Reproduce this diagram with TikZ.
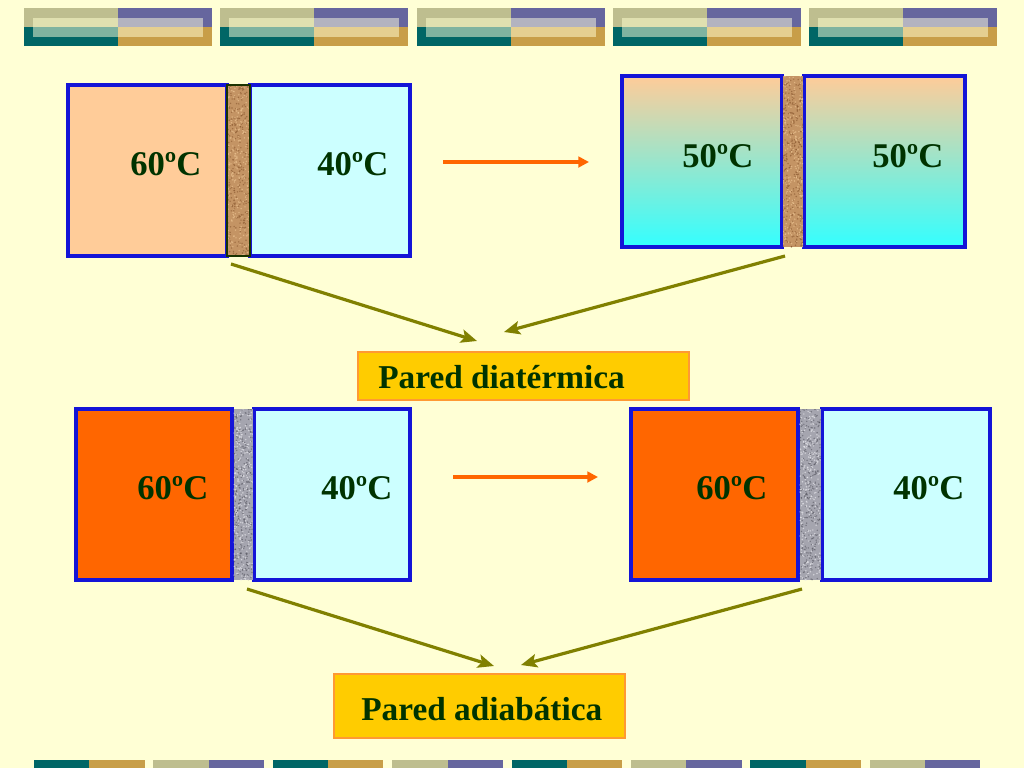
\documentclass[tikz,border=0pt]{standalone}
\usepackage{fontspec}
\setmainfont{Liberation Serif}
\usetikzlibrary{arrows.meta}
\definecolor{bgc}{RGB}{255,255,213}
\definecolor{bluec}{RGB}{20,20,215}
\definecolor{peachc}{RGB}{255,204,153}
\definecolor{cyanc}{RGB}{204,255,255}
\definecolor{hotc}{RGB}{255,102,0}
\definecolor{txtc}{RGB}{0,51,0}
\definecolor{olivec}{RGB}{128,128,0}
\definecolor{goldc}{RGB}{255,204,0}
\definecolor{goldb}{RGB}{255,153,51}
\definecolor{corkc}{RGB}{196,148,100}
\definecolor{corkd}{RGB}{130,80,40}
\definecolor{corkl}{RGB}{235,195,145}
\definecolor{granc}{RGB}{165,165,175}
\definecolor{grand}{RGB}{80,80,90}
\definecolor{granl}{RGB}{230,230,235}
\definecolor{wallb}{RGB}{26,51,0}
\definecolor{midc}{RGB}{180,225,210}
\definecolor{botc}{RGB}{51,255,255}
\definecolor{bKh}{RGB}{190,190,143}
\definecolor{bPu}{RGB}{102,102,158}
\definecolor{bTe}{RGB}{0,102,102}
\definecolor{bGo}{RGB}{200,158,72}
\definecolor{iKh}{RGB}{224,224,176}
\definecolor{iPu}{RGB}{179,179,192}
\definecolor{iTe}{RGB}{127,179,160}
\definecolor{iGo}{RGB}{229,207,144}
\tikzset{
  box/.style={draw=bluec, line width=2.6pt},
  temp/.style={text=txtc, font=\fontsize{26}{30}\selectfont\bfseries, inner sep=0pt, anchor=base west},
  lbltxt/.style={text=txtc, font=\fontsize{25}{30}\selectfont\bfseries, inner sep=0pt, anchor=base west},
  olivearrow/.style={draw=olivec, line width=2.4pt, -{Stealth[length=12pt,width=10pt,inset=2.5pt]}},
  hotarrow/.style={draw=hotc, line width=2.4pt, -{Triangle[length=8pt,width=8pt]}}
}
\newcommand{\texwall}[6]{% x0 y0 x1 y1 dark light
  \begin{scope}
    \clip (#1,#2) rectangle (#3,#4);
    \foreach \k in {1,...,300} {
      \pgfmathsetmacro{\px}{#1+rnd*(#3-#1)}
      \pgfmathsetmacro{\py}{#2+rnd*(#4-#2)}
      \fill[#5, opacity=0.55] (\px,\py) circle (0.8);
    }
    \foreach \k in {1,...,240} {
      \pgfmathsetmacro{\px}{#1+rnd*(#3-#1)}
      \pgfmathsetmacro{\py}{#2+rnd*(#4-#2)}
      \fill[#6, opacity=0.7] (\px,\py) circle (0.8);
    }
  \end{scope}}
\begin{document}
\begin{tikzpicture}[x=0.75pt,y=-0.75pt]
\pgfmathsetseed{11}
\fill[bgc] (0,0) rectangle (1024,768);
\useasboundingbox (0,0) rectangle (1024,768);
% top decorative band
\foreach \bx in {24,220.25,416.5,612.75,809} {
  \fill[bKh] (\bx,8) rectangle ++(94,19);
  \fill[bPu] (\bx+94,8) rectangle ++(94,19);
  \fill[bTe] (\bx,27) rectangle ++(94,19);
  \fill[bGo] (\bx+94,27) rectangle ++(94,19);
  \fill[iKh] (\bx+9,18) rectangle ++(85,9);
  \fill[iPu] (\bx+94,18) rectangle ++(85,9);
  \fill[iTe] (\bx+9,27) rectangle ++(85,10);
  \fill[iGo] (\bx+94,27) rectangle ++(85,10);
}
% bottom decorative band
\foreach \bx/\ca/\cb in {34/bTe/bGo,153.4/bKh/bPu,272.8/bTe/bGo,392.2/bKh/bPu,511.6/bTe/bGo,631/bKh/bPu,750.4/bTe/bGo,869.8/bKh/bPu} {
  \fill[\ca] (\bx,760) rectangle ++(55.3,8);
  \fill[\cb] (\bx+55.3,760) rectangle ++(55.3,8);
}
% ---- system 1 (top left) ----
\fill[peachc] (68,85) rectangle (227,256);
\draw[box] (68,85) rectangle (227,256);
\fill[cyanc] (250,85) rectangle (410,256);
\draw[box] (250,85) rectangle (410,256);
\fill[corkc] (227,85) rectangle (250,256);
\texwall{227}{85}{250}{256}{corkd}{corkl}
\draw[draw=wallb, line width=2.2pt] (227,85) rectangle (250,256);
\node[temp] (t1a) at (130,175) {60ºC};
\node[temp] (t1b) at (317,175) {40ºC};
% ---- system 2 (top right) ----
\shade[top color=peachc, middle color=midc, bottom color=botc] (622,76) rectangle (782,247);
\draw[box] (622,76) rectangle (782,247);
\shade[top color=peachc, middle color=midc, bottom color=botc] (804,76) rectangle (965,247);
\draw[box] (804,76) rectangle (965,247);
\fill[corkc] (783,76) rectangle (803,247);
\texwall{783}{76}{803}{247}{corkd}{corkl}
\node[temp] (t2a) at (682,167) {50ºC};
\node[temp] (t2b) at (872,167) {50ºC};
% ---- system 3 (bottom left) ----
\fill[hotc] (76,409) rectangle (232,580);
\draw[box] (76,409) rectangle (232,580);
\fill[cyanc] (254,409) rectangle (410,580);
\draw[box] (254,409) rectangle (410,580);
\fill[granc] (233.5,409) rectangle (252.5,580);
\texwall{233.5}{409}{252.5}{580}{grand}{granl}
\node[temp] (t3a) at (137,499) {60ºC};
\node[temp] (t3b) at (321,499) {40ºC};
% ---- system 4 (bottom right) ----
\fill[hotc] (631,409) rectangle (798,580);
\draw[box] (631,409) rectangle (798,580);
\fill[cyanc] (822,409) rectangle (990,580);
\draw[box] (822,409) rectangle (990,580);
\fill[granc] (799.5,409) rectangle (820.5,580);
\texwall{799.5}{409}{820.5}{580}{grand}{granl}
\node[temp] (t4a) at (696,499) {60ºC};
\node[temp] (t4b) at (893,499) {40ºC};
% ---- labels ----
\fill[goldc] (358,352) rectangle (689,400);
\draw[goldb, line width=0.8pt] (358,352) rectangle (689,400);
\node[lbltxt] (ld) at (378,388) {Pared diatérmica};
\fill[goldc] (334,674) rectangle (625,738);
\draw[goldb, line width=0.8pt] (334,674) rectangle (625,738);
\node[lbltxt] (la) at (361,720) {Pared adiabática};
% ---- connectors ----
\coordinate (h1s) at (443,162);
\coordinate (h1e) at (589,162);
\coordinate (h2s) at (453,477);
\coordinate (h2e) at (598,477);
\draw[hotarrow] (h1s) -- (h1e);
\draw[hotarrow] (h2s) -- (h2e);
\coordinate (w1) at (231,264);
\coordinate (w2) at (785,256);
\coordinate (d1) at (477,341);
\coordinate (d2) at (504,332);
\draw[olivearrow] (w1) -- (d1);
\draw[olivearrow] (w2) -- (d2);
\coordinate (w3) at (247,589);
\coordinate (w4) at (802,589);
\coordinate (a1) at (494,666);
\coordinate (a2) at (521,665);
\draw[olivearrow] (w3) -- (a1);
\draw[olivearrow] (w4) -- (a2);
\end{tikzpicture}
\end{document}
